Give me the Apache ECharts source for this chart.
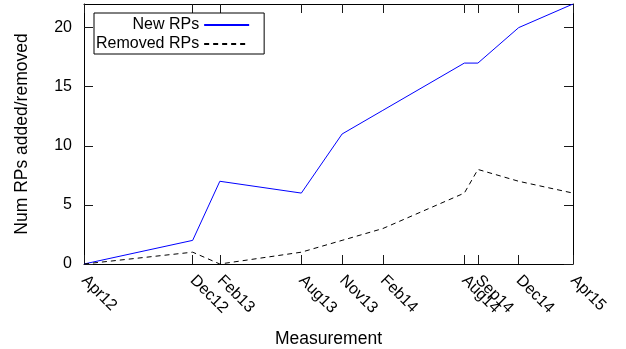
<!DOCTYPE html>
<html>
<head>
<meta charset="utf-8">
<script src="https://cdn.jsdelivr.net/npm/echarts@6/dist/echarts.min.js"></script>
<style>
html,body{margin:0;padding:0;background:#fff;}
#chart{width:626px;height:349px;}
</style>
</head>
<body>
<div id="chart"></div>
<script>
// Months since Apr 2012 for each measurement
var monthOffsets = [0, 8, 10, 16, 19, 22, 28, 29, 32, 36];
var tickLabels = ['Apr12', 'Dec12', 'Feb13', 'Aug13', 'Nov13', 'Feb14', 'Aug14', 'Sep14', 'Dec14', 'Apr15'];
var newRPs = [0, 2, 7, 6, 11, 13, 17, 17, 20, 22];
var removedRPs = [0, 1, 0, 1, 2, 3, 6, 8, 7, 6];
var yTicks = [0, 5, 10, 15, 20];

var font = 'Liberation Sans, Arial, sans-serif';
function pairs(vals) { return monthOffsets.map(function (m, i) { return [m, vals[i]]; }); }
function labelFor(v) { var i = monthOffsets.indexOf(v); return i >= 0 ? tickLabels[i] : ''; }
function ticks(vals) { return {show: true, customValues: vals, inside: true, length: 9, lineStyle: {color: '#1a1a1a', width: 1}}; }
function axLine() { return {show: true, onZero: false, lineStyle: {color: '#000', width: 1}}; }

var option = {
  animation: false,
  textStyle: {fontFamily: font},
  grid: {left: 84, right: 53, top: 4, bottom: 85, outerBoundsMode: 'none'},
  legend: {
    orient: 'vertical', align: 'right', left: 94, top: 13,
    itemWidth: 45, itemHeight: 16, itemGap: 3,
    padding: [4, 14, 2, 2],
    borderColor: '#000', borderWidth: 1,
    itemStyle: {opacity: 0},
    textStyle: {fontSize: 16, color: '#000'},
    data: [{name: 'New RPs'}, {name: 'Removed RPs'}]
  },
  xAxis: [{
    type: 'value', min: 0, max: 36, position: 'bottom',
    name: 'Measurement', nameLocation: 'middle', nameGap: 66,
    nameTextStyle: {fontSize: 17.5, color: '#000'},
    axisLine: axLine(), axisTick: ticks(monthOffsets),
    axisLabel: {customValues: monthOffsets, formatter: labelFor, rotate: -45, margin: 14, fontSize: 16, color: '#000'},
    splitLine: {show: false}
  }, {
    type: 'value', min: 0, max: 36, position: 'top',
    axisLine: axLine(), axisTick: ticks(monthOffsets), axisLabel: {show: false}, splitLine: {show: false}
  }],
  yAxis: [{
    type: 'value', min: 0, max: 22, position: 'left',
    name: 'Num RPs added/removed', nameLocation: 'middle', nameGap: 53,
    nameTextStyle: {fontSize: 17.5, color: '#000'},
    axisLine: axLine(), axisTick: ticks(yTicks),
    axisLabel: {customValues: yTicks, margin: 12, fontSize: 16, color: '#000'},
    splitLine: {show: false}
  }, {
    type: 'value', min: 0, max: 22, position: 'right',
    axisLine: axLine(), axisTick: ticks(yTicks), axisLabel: {show: false}, splitLine: {show: false}
  }],
  series: [{
    name: 'New RPs', type: 'line', data: pairs(newRPs), showSymbol: false, symbol: 'none',
    lineStyle: {color: '#0000ff', width: 1}, itemStyle: {color: '#0000ff'}
  }, {
    name: 'Removed RPs', type: 'line', data: pairs(removedRPs), showSymbol: false, symbol: 'none',
    lineStyle: {color: '#000', width: 1, type: [5, 4]}, itemStyle: {color: '#000'}
  }]
};
echarts.init(document.getElementById('chart')).setOption(option);
</script>
</body>
</html>
